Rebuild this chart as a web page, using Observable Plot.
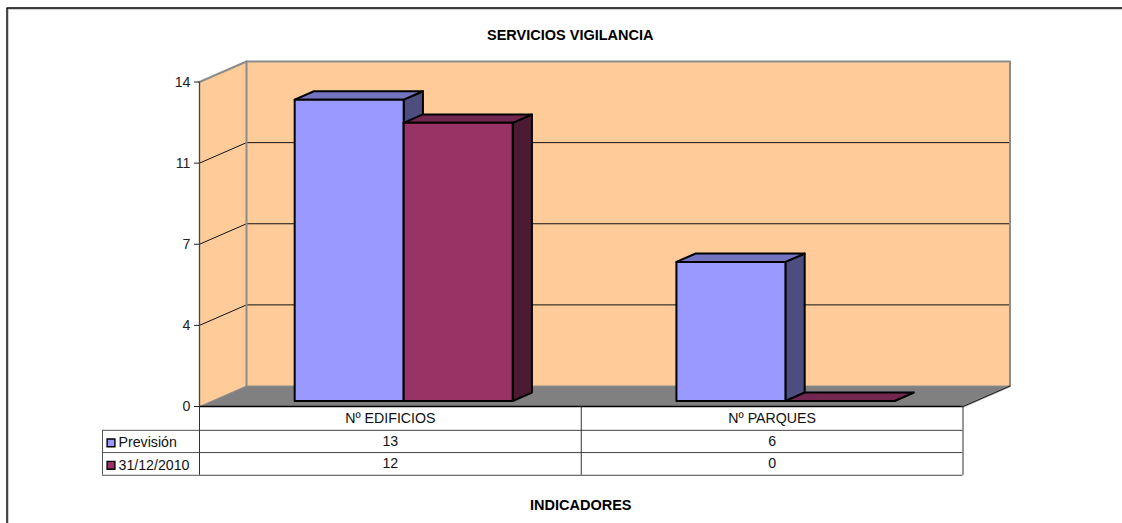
<!DOCTYPE html>
<html><head><meta charset="utf-8">
<script src="https://cdn.jsdelivr.net/npm/d3@7"></script>
<script src="https://cdn.jsdelivr.net/npm/@observablehq/plot@0.6"></script>
<style>html,body{margin:0;padding:0;background:#fff;overflow:hidden}svg{display:block}</style>
</head><body><div id="chart"></div>
<script>
const categories = ["Nº EDIFICIOS", "Nº PARQUES"];
const seriesNames = ["Previsión", "31/12/2010"];
const prevision = [13, 6];
const corte = [12, 0];
const yTicks = [0, 3.5, 7, 10.5, 14];
const faceColors = [
  {front: "#9999ff", top: "#7373bf", side: "#4d4d80"},
  {front: "#993366", top: "#732650", side: "#4d1a33"}
];
const wall = "#ffcc99", floor = "#808080", wallEdge = "#8c8c8c";

// Oblique projection: depth z in [0,1] shifts a point right and up, in data units.
const W = 1122, H = 523, L = 199, R = 962.5, T = 81.5, B = 406;
const ux = 2 / (R - L), uy = 14 / (B - T);
const depthX = 47 * ux, depthY = 20.5 * uy;
const P = (x, y, z = 0) => ({x: x + z * depthX, y: y + z * depthY});
const poly = (id, pts, fill, stroke) => pts.map(([x, y, z]) => ({...P(x, y, z), id, fill, stroke}));

const barW = 109 * ux, z0 = 0.27, z1 = 0.68;
const bars = [];
[prevision, corte].forEach((vals, s) => vals.forEach((v, c) => {
  const x0 = c + 0.5 + (s - 1) * barW + 0.6 * ux, x1 = x0 + barW;
  bars.push({c, s, v, x0, x1});
}));
const shape = (id, pts, fill, stroke, sw = 2) =>
  Plot.line(poly(id, [...pts, pts[0]], fill, stroke), {x: "x", y: "y", fill, stroke, strokeWidth: sw, curve: "linear-closed"});

const marks = [];
// page border (top and left only)
const bx = (6.5 - L) * ux, by = (B - 7.5) * uy, bxR = (W - L) * ux, byB = (B - H) * uy;
marks.push(Plot.line([{x: bx + 1.2 * ux, y: byB}, {x: bx + 1.2 * ux, y: by - 1.2 * uy}, {x: bxR, y: by - 1.2 * uy}], {x: "x", y: "y", stroke: "#bbb", strokeWidth: 1}));
marks.push(Plot.line([{x: bx, y: byB}, {x: bx, y: by}, {x: bxR, y: by}], {x: "x", y: "y", stroke: "#000", strokeWidth: 1.4}));
// walls and floor
marks.push(shape("left", [[0,0,0],[0,14,0],[0,14,1],[0,0,1]], wall, "none"));
marks.push(shape("back", [[0,0,1],[0,14,1],[2,14,1],[2,0,1]], wall, "none"));
marks.push(shape("floor", [[0,0,0],[0,0,1],[2,0,1],[2,0,0]], floor, "none"));
// gridlines
yTicks.slice(1, -1).forEach(v => {
  marks.push(Plot.line([P(0, v, 0), P(0, v, 1), P(2, v, 1)], {x: "x", y: "y", stroke: "#111", strokeWidth: 1, curve: "linear"}));
});
// wall edges
marks.push(Plot.line([P(0,14,0), P(0,14,1), P(2,14,1), P(2,0,1), P(2,0,0)], {x: "x", y: "y", stroke: wallEdge, strokeWidth: 2}));
marks.push(Plot.line([P(0,0,1), P(0,14,1)], {x: "x", y: "y", stroke: wallEdge, strokeWidth: 2}));
marks.push(Plot.line([P(0,0,0), P(0,0,1), P(2,0,1)], {x: "x", y: "y", stroke: "#8c8c8c", strokeWidth: 1}));
// bars: back to front, left to right
bars.forEach(b => {
  const col = faceColors[b.s], id = `${b.s}-${b.c}`;
  marks.push(shape("side" + id, [[b.x1,0,z0],[b.x1,b.v,z0],[b.x1,b.v,z1],[b.x1,0,z1]], col.side, "#000"));
  marks.push(shape("top" + id, [[b.x0,b.v,z0],[b.x0,b.v,z1],[b.x1,b.v,z1],[b.x1,b.v,z0]], col.top, "#000"));
  if (b.v > 0) marks.push(shape("front" + id, [[b.x0,0,z0],[b.x0,b.v,z0],[b.x1,b.v,z0],[b.x1,0,z0]], col.front, "#000"));
});
// data table
const rowH = 22.7 * uy, rows = [0, -1.05 * rowH, -2.03 * rowH, -3.03 * rowH];
const legendX = -97 * ux;
marks.push(Plot.ruleY([0], {x1: 0, x2: 2, stroke: "#000", strokeWidth: 1.3}));
marks.push(Plot.ruleY(rows.slice(1), {x1: 0, x2: 2, stroke: "#444", strokeWidth: 1}));
marks.push(Plot.ruleY(rows.slice(1), {x1: legendX, x2: 0, stroke: "#555", strokeWidth: 1}));
marks.push(Plot.ruleX([0, 1, 2], {y1: rows[0], y2: rows[3], stroke: "#333", strokeWidth: 1}));
marks.push(Plot.ruleX([legendX], {y1: rows[1], y2: rows[3], stroke: "#555", strokeWidth: 1}));
marks.push(Plot.line([P(2,0,0), P(2,0,1)], {x: "x", y: "y", stroke: "#222", strokeWidth: 1}));
const fam = "Liberation Sans, Arial, sans-serif";
const font = {fontFamily: fam, fontSize: 14.2, fill: "#111"};
marks.push(Plot.text(categories, {x: (d, i) => i + 0.5, y: (rows[0] + rows[1]) / 2, text: d => d, ...font}));
[prevision, corte].forEach((vals, s) => {
  const mid = (rows[s + 1] + rows[s + 2]) / 2;
  marks.push(Plot.text(vals, {x: (d, i) => i + 0.5, y: mid, text: d => String(d), ...font}));
  marks.push(Plot.dot([seriesNames[s]], {x: legendX + 8.5 * ux, y: mid - 0.06, symbol: "square", r: 4.4, fill: faceColors[s].front, stroke: "#000", strokeWidth: 1.4}));
  marks.push(Plot.text([seriesNames[s]], {x: legendX + 16 * ux, y: mid - 0.06, text: d => d, textAnchor: "start", ...font}));
});
marks.push(Plot.axisY(yTicks, {anchor: "left", tickFormat: d => d3.format("d")(Math.round(d)), tickSize: 5, tickPadding: 4, fontSize: 14.2, fontFamily: fam, label: null, color: "#222", stroke: "#222"}));
marks.push(Plot.ruleX([0], {y1: 0, y2: 14, stroke: "#444", strokeWidth: 1.3}));
// titles
const titleFont = {fontFamily: fam, fontSize: 14.5, fontWeight: "bold", fill: "#000"};
marks.push(Plot.text(["SERVICIOS VIGILANCIA"], {frameAnchor: "top", dy: -52.5, dx: -11, text: d => d, ...titleFont}));
marks.push(Plot.text(["INDICADORES"], {frameAnchor: "bottom", dy: 103, dx: -0.5, text: d => d, ...titleFont}));

const chart = Plot.plot({
  width: W, height: H,
  marginLeft: L, marginRight: W - R, marginTop: T, marginBottom: H - B,
  style: {background: "#fff", overflow: "hidden"},
  x: {domain: [0, 2], axis: null},
  y: {domain: [0, 14], axis: null},
  marks
});
document.getElementById("chart").append(chart);
</script></body></html>
